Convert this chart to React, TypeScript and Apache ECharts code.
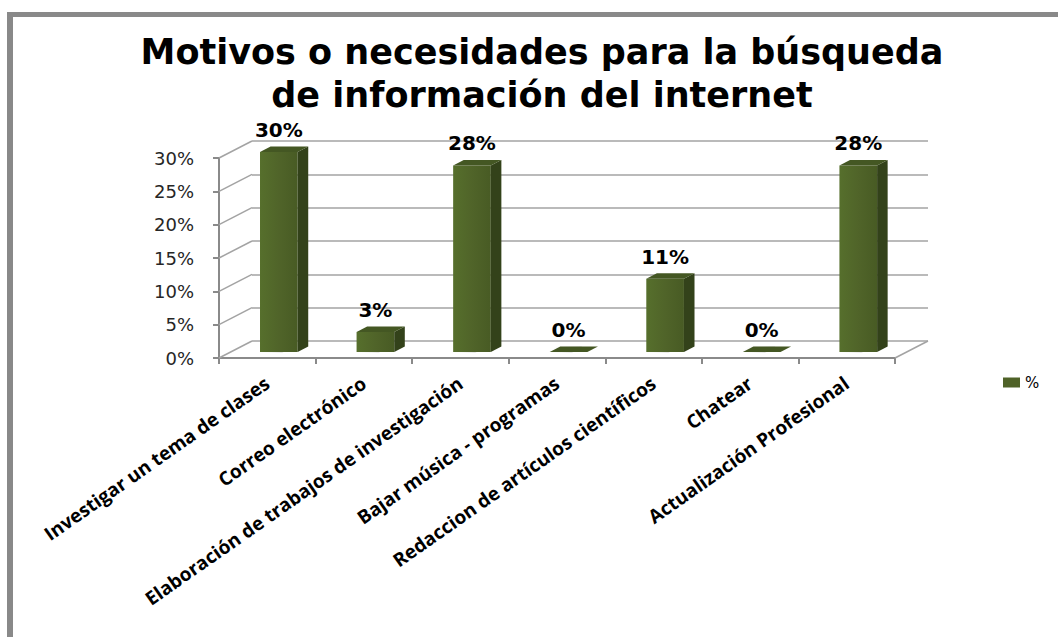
import React, { useEffect, useRef } from "react";
import * as echarts from "echarts";

const categories = [
  "Investigar un tema de clases",
  "Correo electrónico",
  "Elaboración de trabajos de investigación",
  "Bajar música - programas",
  "Redaccion de artículos científicos",
  "Chatear",
  "Actualización Profesional",
];
const values = [30, 3, 28, 0, 11, 0, 28];
const yTicks = [0, 5, 10, 15, 20, 25, 30];
const seriesName = "%";
const titleText = "Motivos o necesidades para la búsqueda\nde información del internet";

const DX = 33;
const DY = -17;
const F = 0.35;
const B = 0.67;

export default function App() {
  const ref = useRef<HTMLDivElement>(null);
  useEffect(() => {
    if (!ref.current) return;
    const chart = echarts.init(ref.current, undefined, { renderer: "svg" });
    const option: any = {
      animation: false,
      backgroundColor: "#ffffff",
      title: {
        text: titleText,
        left: 537,
        textAlign: "center",
        top: 25,
        textStyle: {
          fontFamily: "DejaVu Sans",
          fontWeight: "bold",
          fontSize: 35,
          lineHeight: 43,
          color: "#000000",
        },
      },
      legend: {
        left: 998,
        top: 370,
        itemWidth: 17,
        itemHeight: 10,
        itemGap: 6,
        data: [{ name: seriesName, icon: "rect" }],
        textStyle: { fontFamily: "DejaVu Sans", fontSize: 15, color: "#000" },
      },
      graphic: [
        { type: "rect", shape: { x: 7, y: 12, width: 1051, height: 5 }, style: { fill: "#898989" }, silent: true },
        { type: "rect", shape: { x: 7, y: 12, width: 6, height: 625 }, style: { fill: "#898989" }, silent: true },
      ],
      grid: [
        { left: 219, right: 163, top: 158, bottom: 279 },
        { left: 219 + DX, right: 163 - DX, top: 158 + DY, bottom: 279 - DY },
      ],
      xAxis: [
        {
          type: "category",
          gridIndex: 0,
          data: categories,
          axisLine: { lineStyle: { color: "#8a8a8a", width: 2 } },
          axisTick: { show: true, length: 6, lineStyle: { color: "#8a8a8a", width: 2 } },
          axisLabel: {
            rotate: 35,
            margin: 23,
            interval: 0,
            fontFamily: "Open Sans",
            fontWeight: "bold",
            fontSize: 19,
            color: "#000",
          },
        },
        {
          type: "category",
          gridIndex: 1,
          data: categories,
          show: false,
        },
      ],
      yAxis: [
        {
          type: "value",
          gridIndex: 0,
          min: 0,
          max: 30,
          interval: 5,
          axisLine: { show: true, lineStyle: { color: "#8a8a8a", width: 2 } },
          axisTick: { show: true, length: 6, lineStyle: { color: "#8a8a8a", width: 2 } },
          splitLine: { show: false },
          axisLabel: {
            formatter: "{value}%",
            margin: 25,
            fontFamily: "DejaVu Sans",
            fontSize: 18,
            color: "#262626",
          },
        },
        {
          type: "value",
          gridIndex: 1,
          min: 0,
          max: 30,
          interval: 5,
          axisLine: { show: false },
          axisTick: { show: false },
          axisLabel: { show: false },
          splitLine: { show: true, lineStyle: { color: "#a3a3a3", width: 1.5 } },
        },
      ],
      series: [
        {
          type: "custom",
          name: "walls",
          xAxisIndex: 0,
          yAxisIndex: 0,
          silent: true,
          encode: { x: 0, y: 1 },
          data: yTicks.map((v) => [0, v]),
          renderItem: (params: any, api: any) => {
            const cs = params.coordSys;
            const y = api.coord([0, api.value(1)])[1];
            const children: any[] = [
              {
                type: "line",
                shape: { x1: cs.x, y1: y, x2: cs.x + DX, y2: y + DY },
                style: { stroke: "#a3a3a3", lineWidth: 1.5 },
              },
            ];
            if (params.dataIndex === 0) {
              children.push({
                type: "line",
                shape: { x1: cs.x + cs.width, y1: y, x2: cs.x + cs.width + DX, y2: y + DY },
                style: { stroke: "#a3a3a3", lineWidth: 1.5 },
              });
            }
            return { type: "group", children };
          },
          z: 1,
        },
        {
          type: "custom",
          name: seriesName,
          xAxisIndex: 0,
          yAxisIndex: 0,
          itemStyle: { color: "#4F6228" },
          encode: { x: 0, y: 1 },
          data: values.map((v, i) => [i, v]),
          renderItem: (params: any, api: any) => {
            const idx = api.value(0);
            const val = api.value(1);
            const c0 = api.coord([idx, 0]);
            const c1 = api.coord([idx, val]);
            const bw = api.size([1, 0])[0] * 0.39;
            const xl = c0[0] - bw / 2 + F * DX;
            const xr = c0[0] + bw / 2 + F * DX;
            const yb = c0[1] + F * DY;
            const yt = c1[1] + F * DY;
            const ddx = (B - F) * DX;
            const ddy = (B - F) * DY;
            const children: any[] = [
              {
                type: "polygon",
                shape: {
                  points: [
                    [xl - 4, yb + 1],
                    [xl + 22, yb + 1],
                    [xl + 22 + ddx, yb + ddy],
                    [xl - 4 + ddx, yb + ddy],
                  ],
                },
                style: {
                  fill: new echarts.graphic.LinearGradient(0, 0, 1, 0, [
                    { offset: 0, color: "rgba(255,255,255,0)" },
                    { offset: 1, color: "rgba(150,150,150,0.45)" },
                  ]),
                },
              },
              {
                type: "rect",
                shape: { x: xl, y: yt, width: xr - xl, height: Math.max(yb - yt, 0) },
                style: {
                  fill: new echarts.graphic.LinearGradient(0, 0, 1, 0, [
                    { offset: 0, color: "#566f2c" },
                    { offset: 0.5, color: "#506429" },
                    { offset: 1, color: "#485b24" },
                  ]),
                },
              },
              {
                type: "polygon",
                shape: {
                  points: [
                    [xr, yb],
                    [xr + ddx, yb + ddy],
                    [xr + ddx, yt + ddy],
                    [xr, yt],
                  ],
                },
                style: { fill: "#33421a" },
              },
              {
                type: "polygon",
                shape: {
                  points: [
                    [xl, yt],
                    [xr, yt],
                    [xr + ddx, yt + ddy],
                    [xl + ddx, yt + ddy],
                  ],
                },
                style: { fill: "#445723" },
              },
              {
                type: "text",
                style: {
                  text: Math.round(val) + "%",
                  x: (xl + xr) / 2,
                  y: yt - 22,
                  textAlign: "center",
                  textVerticalAlign: "middle",
                  fontFamily: "DejaVu Sans",
                  fontWeight: "bold",
                  fontSize: 20,
                  fill: "#000",
                },
              },
            ];
            return { type: "group", children };
          },
          z: 2,
        },
      ],
    };
    chart.setOption(option);
    return () => chart.dispose();
  }, []);
  return (
    <div
      ref={ref}
      style={{ position: "fixed", left: 0, top: 0, width: 1058, height: 637, background: "#fff" }}
    />
  );
}
